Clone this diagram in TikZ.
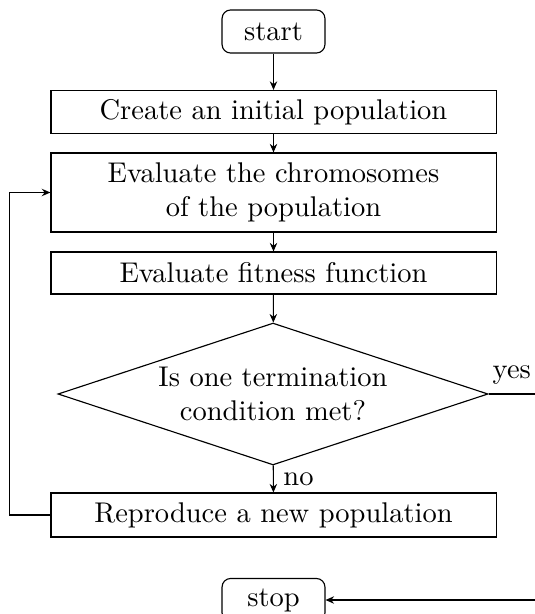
\documentclass[tikz,border=0pt]{standalone}
\usetikzlibrary{shapes.geometric,arrows.meta}
\begin{document}
\begin{tikzpicture}[x=0.3509pt,y=-0.3509pt]

  % Styles of the flow chart (one unit = one pixel of the sketch)
  \tikzset{
    terminal/.style={draw, rounded corners=3pt, minimum width=36.1pt, minimum height=15.1pt, inner sep=0pt},
    process/.style={draw, minimum width=156.2pt, inner sep=0pt, align=center},
    decision/.style={draw, diamond, aspect=3.03, minimum width=150.9pt, minimum height=49.8pt, inner sep=0pt, align=center},
    flow/.style={-{Stealth[length=3pt,width=2.6pt]}}
  }
  \tikzset{every path/.style={line width=0.4pt}}

  % Page size
  \useasboundingbox (0,0) rectangle (535,614);

  % Column of steps
  \def\colx{273.5}

  \node[terminal] (start) at (\colx, 31.5) {start};
  \node[process, minimum height=15.1pt] (create) at (\colx, 112) {Create an initial population};
  \node[process, minimum height=27.7pt] (chrom) at (\colx, 192.5) {Evaluate the chromosomes\\of the population};
  \node[process, minimum height=14.7pt] (fitness) at (\colx, 273) {Evaluate fitness function};
  \node[decision] (cond) at (273, 394) {Is one termination\\condition met?};
  \node[process, minimum height=15.4pt] (repro) at (\colx, 515) {Reproduce a new population};
  \node[terminal] (stop) at (\colx, 600) {stop};

  % Free ends at the right border
  \coordinate (yesend) at (535, 394);
  \coordinate (stopin) at (535, 600);

  % Connectors
  \draw[flow] (start) -- (create);
  \draw[flow] (create) -- (chrom);
  \draw[flow] (chrom) -- (fitness);
  \draw[flow] (fitness) -- (cond);
  \draw[flow] (cond) -- node[right] {no} (repro);
  \draw (cond.east) -- node[above] {yes} (yesend);
  \draw[flow] (repro.west) -- ++(-41,0) |- (chrom.west);
  \draw[flow] (stopin) -- (stop.east);
\end{tikzpicture}
\end{document}
